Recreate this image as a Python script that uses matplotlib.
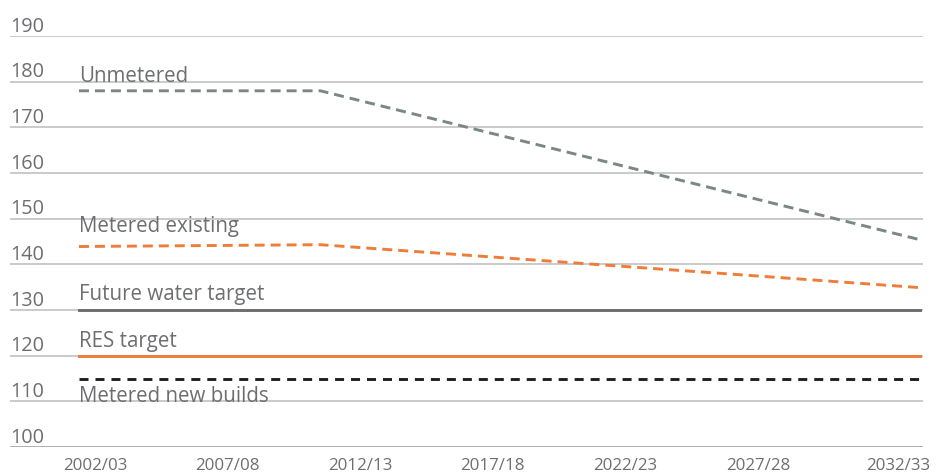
import matplotlib
matplotlib.use("Agg")
import matplotlib.pyplot as plt
import matplotlib.transforms as mtransforms

plt.rcParams['font.family'] = ['Open Sans', 'DejaVu Sans']
plt.rcParams['lines.scale_dashes'] = False

# data (litres per person per day), x in years
yrs = [2001.4, 2010.5, 2033.1]
unmetered = [178, 178, 145.4]
metered_existing = [143.9, 144.3, 134.9]
future_water = [130, 130, 130]
res_target = [120, 120, 120]
metered_new = [115, 115, 115]

tick_years = [2002, 2007, 2012, 2017, 2022, 2027, 2032]
tick_labels = ["2002/03", "2007/08", "2012/13", "2017/18", "2022/23", "2027/28", "2032/33"]
y_ticks = [100, 110, 120, 130, 140, 150, 160, 170, 180, 190]

txt = "#6d6e71"
orange = "#ee7d3a"

fig = plt.figure(figsize=(9.43, 4.75), dpi=100)
ax = fig.add_axes([10/943, 28/475, 913/943, 411/475])
ax.set_xlim(1998.8, 2033.22)
ax.set_ylim(100, 190)

for v in y_ticks:
    c = "#a9a9a9" if v == 100 else "#c6c6c6"
    ax.axhline(v, color=c, lw=1.3, zorder=1)

ax.plot(yrs, unmetered, color="#7c8684", lw=2.1, dashes=(7.2, 4.3), zorder=3)
ax.plot(yrs, metered_existing, color=orange, lw=2.1, dashes=(7.2, 4.3), zorder=3)
ax.plot(yrs, future_water, color="#6d6e71", lw=2.1, zorder=3)
ax.plot(yrs, res_target, color=orange, lw=2.1, zorder=3)
ax.plot(yrs, metered_new, color="#231f20", lw=2.1, dashes=(6.5, 5.0), zorder=3)

# series labels
lbl = dict(color=txt, fontsize=14.8, va="baseline", ha="left", zorder=4)
ax.text(yrs[0], 180, "Unmetered", **lbl)
ax.text(yrs[0], 147, "Metered existing", **lbl)
ax.text(yrs[0], 132.1, "Future water target", **lbl)
ax.text(yrs[0], 121.8, "RES target", **lbl)
ax.text(yrs[0], 109.8, "Metered new builds", **lbl)

# y labels sit above the gridlines at the left
trans = mtransforms.blended_transform_factory(ax.transAxes, ax.transData)
for v in y_ticks:
    ax.annotate(str(v), (0, v), xycoords=trans, xytext=(0, 3.2), textcoords="offset points",
                color=txt, fontsize=14.3, va="baseline", ha="left")

ax.set_xticks(tick_years)
ax.set_xticklabels(tick_labels, color=txt, fontsize=12.2)
ax.tick_params(axis="x", length=0, pad=8)
# last label sits a little further right in the original
last = ax.get_xticklabels()[-1]
last.set_transform(last.get_transform() + mtransforms.ScaledTranslation(8/100, 0, fig.dpi_scale_trans))
ax.set_yticks([])
for s in ax.spines.values():
    s.set_visible(False)

fig.savefig("out.png", dpi=100)
